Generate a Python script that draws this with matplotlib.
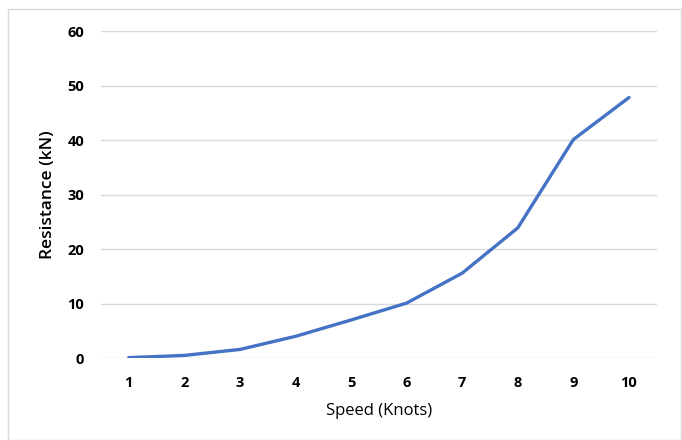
import matplotlib.pyplot as plt
from matplotlib.patches import Rectangle

speed = [1, 2, 3, 4, 5, 6, 7, 8, 9, 10]
resistance = [0.1, 0.5, 1.6, 4.0, 7.0, 10.1, 15.6, 23.9, 40.1, 47.8]
yticks = [0, 10, 20, 30, 40, 50, 60]

plt.rcParams['font.family'] = ['Open Sans', 'DejaVu Sans']

fig = plt.figure(figsize=(6.82, 4.4), dpi=100)
ax = fig.add_axes([0.148, 0.186, 0.815, 0.7435])

# chart border like excel
fig.patches.append(Rectangle((0.011, 0.0), 0.987, 0.979, transform=fig.transFigure,
                             fill=False, edgecolor='#d9d9d9', linewidth=1))

ax.plot(speed, resistance, color='#4472C4', linewidth=2.4, solid_capstyle='round')

ax.set_xlim(0.5, 10.5)
ax.set_ylim(0, 60)
ax.set_yticks(yticks)
ax.set_xticks(speed)
ax.grid(axis='y', color='#d9d9d9', linewidth=1)
ax.set_axisbelow(True)
for s in ax.spines.values():
    s.set_visible(False)
ax.tick_params(length=0, labelsize=10.5)
for lab in ax.get_xticklabels() + ax.get_yticklabels():
    lab.set_fontweight('bold')
ax.tick_params(axis='x', pad=13)
ax.tick_params(axis='y', pad=12)

ax.set_xlabel('Speed (Knots)', fontsize=12, labelpad=9)
ax.set_ylabel('Resistance (kN)', fontsize=12.5, fontweight='semibold', labelpad=8)

plt.savefig('out.png', dpi=100)
